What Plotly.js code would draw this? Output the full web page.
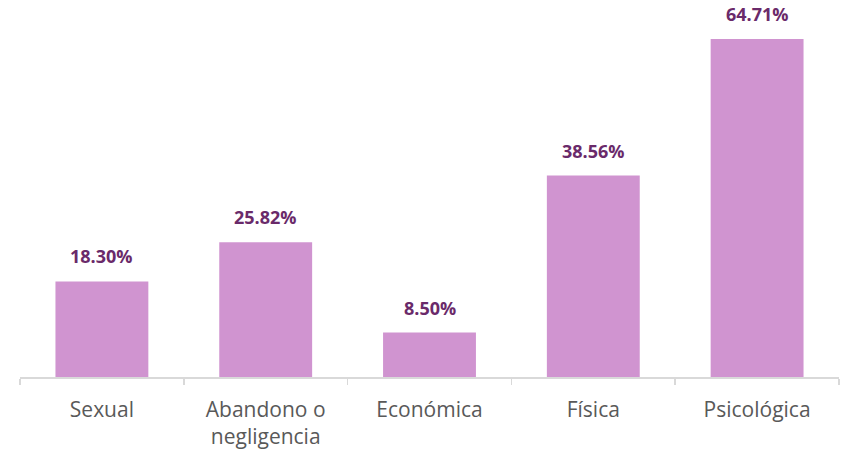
<!DOCTYPE html>
<html>
<head>
<meta charset="utf-8">
<script src="https://cdn.plot.ly/plotly-3.0.1.min.js"></script>
<style>html,body{margin:0;padding:0;background:#fff;}#chart{width:844px;height:451px;}</style>
</head>
<body>
<div id="chart"></div>
<script>
var categories = ["Sexual", "Abandono o<br>negligencia", "Económica", "Física", "Psicológica"];
var values = [18.30, 25.82, 8.50, 38.56, 64.71];
var valueLabels = ["18.30%", "25.82%", "8.50%", "38.56%", "64.71%"];

var trace = {
  type: "bar",
  x: categories,
  y: values,
  marker: {color: "#D094D0"},
  hoverinfo: "none"
};

var annotations = categories.map(function(c, i) {
  return {
    x: c, y: values[i], xref: "x", yref: "y",
    text: "<b>" + valueLabels[i] + "</b>",
    showarrow: false, yanchor: "bottom", yshift: 11,
    font: {family: "Open Sans", size: 18, color: "#6A2A6A"}
  };
});

var layout = {
  width: 844, height: 451,
  margin: {l: 20, r: 5, t: 20, b: 74},
  paper_bgcolor: "#ffffff", plot_bgcolor: "#ffffff",
  bargap: 0.433,
  showlegend: false,
  xaxis: {
    type: "category",
    showline: true, linecolor: "#D9D9D9", linewidth: 1.5,
    ticks: "outside", tickson: "boundaries", ticklen: 6, tickcolor: "#D9D9D9", tickwidth: 1.5,
    showgrid: false, zeroline: false,
    tickfont: {family: "Open Sans", size: 21, color: "#595959"},
    ticklabelstandoff: 13
  },
  yaxis: {
    range: [0, 68.35], visible: false, showgrid: false, zeroline: false, fixedrange: true
  },
  annotations: annotations
};

Plotly.newPlot("chart", [trace], layout, {displayModeBar: false, staticPlot: true});
</script>
</body>
</html>
